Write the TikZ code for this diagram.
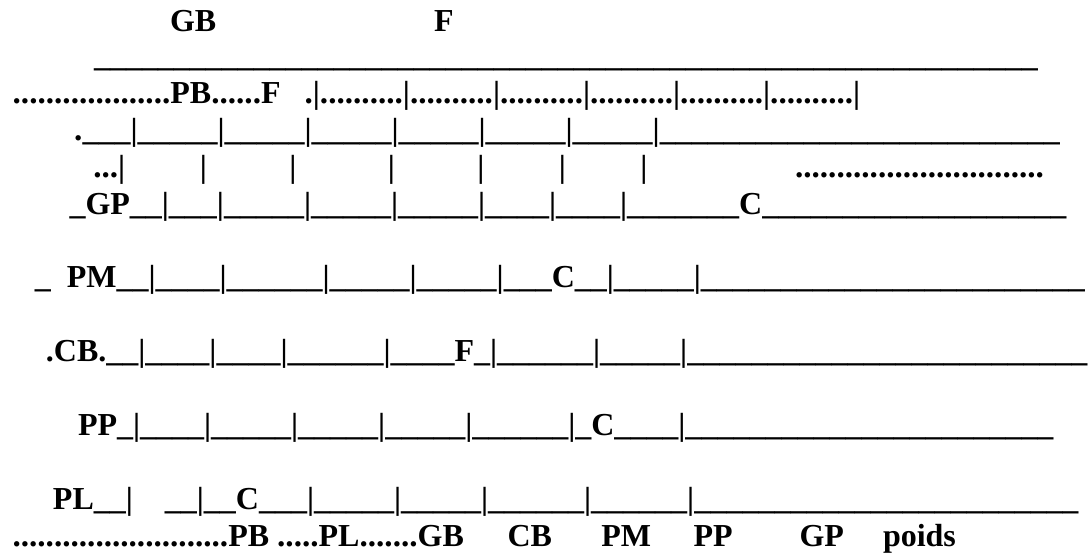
\documentclass[tikz,border=0pt]{standalone}
\usepackage{fontspec}
\setmainfont{Liberation Serif}
\ExplSyntaxOn
\cs_new:Npn \Rep #1#2 { \prg_replicate:nn {#1} {#2} }
\ExplSyntaxOff
\newcommand\Und[1]{\Rep{#1}{\_}}
\newcommand\Dts[1]{{\fontsize{16.6pt}{16.6pt}\selectfont\Rep{#1}{.}}}
\newcommand\Pip{\textbar}
\newcommand\Spc[1]{\Rep{#1}{\ }}
\begin{document}
\begin{tikzpicture}[x=0.5pt,y=-0.5pt,
  txt/.style={anchor=base west,inner sep=0pt,outer sep=0pt,
    font=\fontsize{16pt}{16pt}\selectfont\bfseries},
  bar/.style={txt,anchor=base}]
\fill[white] (0,0) rectangle (1089,554);
\useasboundingbox (0,0) rectangle (1089,554);
% row 0
\node[txt] (gb) at (170,31) {GB};
\node[txt] (f0) at (434,31) {F};
% row 1
\node[txt] (top) at (94,66.4) {\Und{59}};
% row 2
\node[txt] (r2) at (12.7,103.3) {\Dts{19}PB\Dts{6}F\Spc{3}\Dts{1}\Pip\Dts{10}\Pip\Dts{10}\Pip\Dts{10}\Pip\Dts{10}\Pip\Dts{10}\Pip\Dts{10}\Pip};
% row 3
\node[txt] (r3) at (74.2,140.2) {\Dts{1}\Und{3}\Pip\Und{5}\Pip\Und{5}\Pip\Und{5}\Pip\Und{5}\Pip\Und{5}\Pip\Und{5}\Pip\Und{25}};
% row 4
\node[txt] (r4) at (93.3,177.3) {\Dts{3}\Pip};
\node[bar] (b1) at (203.3,177.3) {\Pip};
\node[bar] (b2) at (293,177.3) {\Pip};
\node[bar] (b3) at (391.5,177.3) {\Pip};
\node[bar] (b4) at (481,177.3) {\Pip};
\node[bar] (b5) at (562.4,177.3) {\Pip};
\node[bar] (b6) at (644,177.3) {\Pip};
\node[txt] (d4) at (795,177.3) {\Dts{30}};
% row 5
\node[txt] (r5) at (69.5,214.1) {\_GP\Und{2}\Pip\Und{3}\Pip\Und{5}\Pip\Und{5}\Pip\Und{5}\Pip\Und{4}\Pip\Und{4}\Pip\Und{7}C\Und{19}};
% row 6
\node[txt] (r6) at (34.8,287.9) {\_\Spc{2}PM\Und{2}\Pip\Und{4}\Pip\Und{6}\Pip\Und{5}\Pip\Und{5}\Pip\Und{3}C\Und{2}\Pip\Und{5}\Pip\Und{24}};
% row 7
\node[txt] (r7) at (46,361.7) {.CB.\Und{2}\Pip\Und{4}\Pip\Und{4}\Pip\Und{6}\Pip\Und{4}F\_\Pip\Und{6}\Pip\Und{5}\Pip\Und{25}};
% row 8
\node[txt] (r8) at (78,435.5) {PP\_\Pip\Und{4}\Pip\Und{5}\Pip\Und{5}\Pip\Und{5}\Pip\Und{6}\Pip\_C\Und{4}\Pip\Und{23}};
% row 9
\node[txt] (r9) at (53,509.3) {PL\Und{2}\Pip\Spc{4}\Und{2}\Pip\Und{2}C\Und{3}\Pip\Und{5}\Pip\Und{5}\Pip\Und{6}\Pip\Und{6}\Pip\Und{24}};
% row 10
\node[txt] (r10) at (12.5,546.2) {\Dts{26}PB \Dts{5}PL\Dts{7}GB};
\node[txt] (cb) at (507.5,546.2) {CB};
\node[txt] (pm) at (601.4,546.2) {PM};
\node[txt] (pp) at (693.5,546.2) {PP};
\node[txt] (gp) at (799.5,546.2) {GP};
\node[txt] (poids) at (883,546.2) {poids};
\end{tikzpicture}
\end{document}
